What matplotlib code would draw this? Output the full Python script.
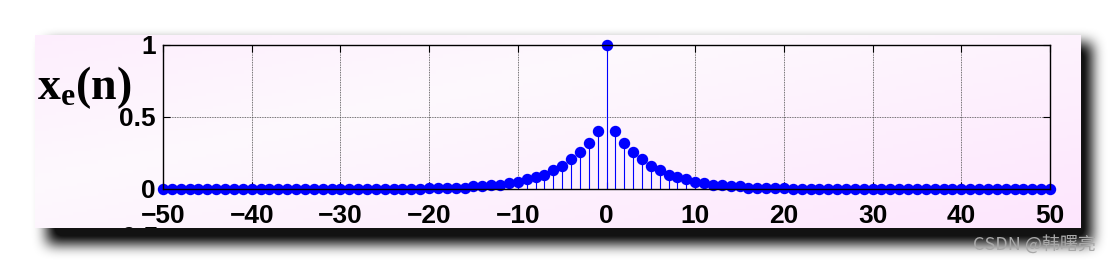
import matplotlib
matplotlib.use("Agg")
import matplotlib.pyplot as plt
from matplotlib.transforms import Bbox
import numpy as np

plt.rcParams["mathtext.fontset"] = "custom"
plt.rcParams["mathtext.bf"] = "Liberation Serif:bold"
plt.rcParams["mathtext.rm"] = "Liberation Serif:bold"
plt.rcParams["mathtext.it"] = "Liberation Serif:bold"

# even part x_e(n), n = -50..50
n = list(range(-50, 51))
xe = [0.0] * 30 + [
    0.01, 0.01, 0.01, 0.01, 0.01, 0.02, 0.02, 0.03, 0.03, 0.04,
    0.05, 0.07, 0.08, 0.10, 0.13, 0.16, 0.21, 0.26, 0.32, 0.40,
    1.0,
    0.40, 0.32, 0.26, 0.21, 0.16, 0.13, 0.10, 0.08, 0.07, 0.05,
    0.04, 0.03, 0.03, 0.02, 0.02, 0.01, 0.01, 0.01, 0.01, 0.01,
] + [0.0] * 30

xticks = [-50, -40, -30, -20, -10, 0, 10, 20, 30, 40, 50]
yticks = [0, 0.5, 1]
yticklabels = ["0", "0.5", "1"]

W, H = 1116, 264
fig = plt.figure(figsize=(W / 100, H / 100), dpi=100)

# background: white page, soft drop shadow, pink gradient panel
bg = fig.add_axes([0, 0, 1, 1])
bg.axis("off")

yy, xx = np.mgrid[0:H, 0:W]
mask = ((xx > 46) & (xx < 1092) & (yy > 42) & (yy < 244)).astype(float)
k = np.ones(13) / 13
for _ in range(3):
    mask = np.apply_along_axis(lambda r: np.convolve(r, k, mode="same"), 1, mask)
    mask = np.apply_along_axis(lambda c: np.convolve(c, k, mode="same"), 0, mask)
shadow = np.zeros((H, W, 4))
shadow[..., 3] = np.clip(mask * 1.05, 0, 0.93)
bg.imshow(np.ones((H, W, 3)), extent=(0, W, H, 0), zorder=0)
bg.imshow(shadow, extent=(0, W, H, 0), zorder=1)

px0, px1, py0, py1 = 35, 1081, 35, 228
gx, gy = np.meshgrid(np.linspace(0, 1, 300), np.linspace(0, 1, 60))
t = np.clip(0.55 * gx + 0.45 * gy, 0, 1)
t = np.abs(t - 0.35) / 0.65
panel = np.ones((60, 300, 3))
panel[..., 1] = 0.975 - 0.075 * t
panel[..., 0] = 0.995
panel[..., 2] = 0.995
bg.imshow(panel, extent=(px0, px1, py1, py0), zorder=2, aspect="auto")
bg.set_xlim(0, W)
bg.set_ylim(H, 0)

# partly hidden tick label peeking at the panel's lower edge
peek = bg.text(158, 226, "-0.5", fontsize=19, fontweight="bold", family="Liberation Sans",
               ha="right", va="top", zorder=3)
peek.set_clip_on(True)
peek.set_clip_box(Bbox([[px0, H - py1], [px1, H - py0]]))

bg.text(1034, 244, "CSDN @韩曙亮", fontsize=13, color="#a8a8a8",
        ha="center", va="center", family=["Noto Sans CJK SC", "DejaVu Sans"], zorder=5)

# main plot
ax = fig.add_axes([163 / W, 1 - 189 / H, (1050 - 163) / W, (189 - 45) / H])
ax.set_facecolor("none")
mk, st, bl = ax.stem(n, xe, linefmt="b-", markerfmt="bo", basefmt=" ")
mk.set_markersize(7.2)
mk.set_clip_on(False)
st.set_linewidth(0.8)
ax.set_xlim(-50, 50)
ax.set_ylim(0, 1)
ax.set_xticks(xticks)
ax.set_yticks(yticks)
ax.set_yticklabels(yticklabels)
ax.grid(True, color="#444444", linewidth=0.6, linestyle=(0, (1, 1)))
ax.tick_params(direction="in", top=True, right=True, length=5, width=0.8,
               labelsize=19)
ax.tick_params(axis="x", pad=11)
ax.tick_params(axis="y", pad=5)
for lab in ax.get_xticklabels() + ax.get_yticklabels():
    lab.set_fontweight("bold")
    lab.set_family("Liberation Sans")
for s in ax.spines.values():
    s.set_linewidth(1.0)
    s.set_color("black")

fig.text(37 / W, 1 - 88 / H, r"$\mathbf{x_e(n)}$", fontsize=33, ha="left", va="center")

fig.savefig("out.png", dpi=100)
